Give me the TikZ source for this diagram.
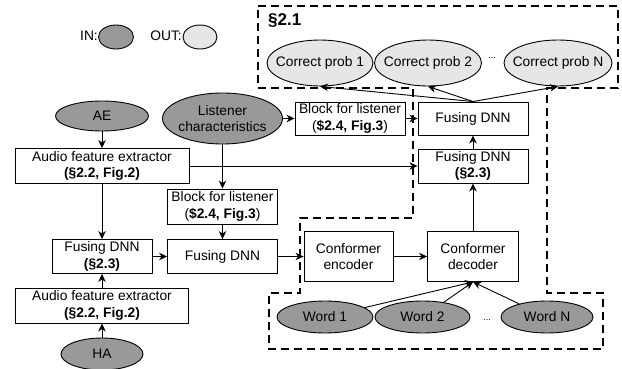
\documentclass[tikz,border=0pt]{standalone}
\usepackage{fontspec}
\setmainfont{Liberation Sans}
\usetikzlibrary{shapes.geometric,arrows.meta}
\definecolor{ingray}{HTML}{999999}
\definecolor{outgray}{HTML}{E6E6E6}
\tikzset{
  base/.style={font=\fontsize{13.8}{16.5}\selectfont, inner sep=0pt, align=center},
  blk/.style={base, draw, line width=0.9pt, rectangle, fill=white},
  inell/.style={base, draw, line width=0.9pt, ellipse, fill=ingray},
  outell/.style={base, draw, line width=0.9pt, ellipse, fill=outgray},
  txt/.style={label={[base]center:#1}},
  arr/.style={line width=0.9pt, -{Stealth[length=8pt,width=7.5pt,inset=2.5pt]}},
  dashbox/.style={line width=1.8pt, dash pattern=on 8pt off 5pt},
}
\begin{document}
\begin{tikzpicture}[x=1pt,y=-1pt]
\useasboundingbox (0,0) rectangle (622,369);
% dashed region
\draw[dashbox] (258,6) -- (618,6) -- (618,88) -- (547,88) -- (547,293) -- (603,293) -- (603,349) -- (269,349) -- (269,293) -- (300,293) -- (300,218) -- (413,218) -- (413,88) -- (258,88) -- cycle;
\node[base, font=\fontsize{17}{20}\selectfont\bfseries, anchor=west] (sec) at (268,21) {§2.1};
% legend
\node[base, anchor=east] (intxt) at (98,36) {IN:};
\node[inell, minimum width=35pt, minimum height=24pt] (inl) at (116,37) {};
\node[base, anchor=east] (outtxt) at (182,36) {OUT:};
\node[outell, minimum width=34pt, minimum height=24pt] (outl) at (200,37) {};
% outputs
\node[outell, minimum width=106pt, minimum height=46pt, txt={Correct prob 1}] (c1) at (320,63) {};
\node[outell, minimum width=107pt, minimum height=46pt, txt={Correct prob 2}] (c2) at (428,63) {};
\node[outell, minimum width=108pt, minimum height=46pt, txt={Correct prob N}] (cN) at (558,63) {};
\node[base, font=\fontsize{9}{10}\selectfont] (dots1) at (492,58) {...};
% inputs
\node[inell, minimum width=93pt, minimum height=30pt, txt={AE}] (ae) at (102,116) {};
\node[inell, minimum width=120pt, minimum height=51pt, txt={Listener\\characteristics}] (lc) at (222.5,118.5) {};
\node[inell, minimum width=82pt, minimum height=32pt, txt={HA}] (ha) at (102,354) {};
% blocks
\node[blk, minimum width=110pt, minimum height=33pt] (bl2) at (350,118.5) {Block for listener\\(\textbf{\$2.4, Fig.3})};
\node[blk, minimum width=110pt, minimum height=33pt] (f3) at (473,118.5) {Fusing DNN};
\node[blk, minimum width=174pt, minimum height=35pt] (afe1) at (102,166) {Audio feature extractor\\\textbf{(§2.2, Fig.2)}};
\node[blk, minimum width=110pt, minimum height=34pt] (f2) at (473,166) {Fusing DNN\\\textbf{(§2.3)}};
\node[blk, minimum width=110pt, minimum height=35pt] (bl1) at (222.5,206.5) {Block for listener\\(\textbf{\$2.4, Fig.3})};
\node[blk, minimum width=100pt, minimum height=34pt] (fl) at (102,256.5) {Fusing DNN\\\textbf{(§2.3)}};
\node[blk, minimum width=110pt, minimum height=34pt] (fm) at (222.5,256.5) {Fusing DNN};
\node[blk, minimum width=89pt, minimum height=50pt] (enc) at (348.5,256.5) {Conformer\\encoder};
\node[blk, minimum width=91pt, minimum height=50pt] (dec) at (473,256.5) {Conformer\\decoder};
\node[blk, minimum width=173pt, minimum height=35pt] (afe2) at (102,305.5) {Audio feature extractor\\\textbf{(§2.2, Fig.2)}};
% words
\node[inell, minimum width=96pt, minimum height=32pt, txt={Word 1}] (w1) at (325,317) {};
\node[inell, minimum width=95pt, minimum height=32pt, txt={Word 2}] (w2) at (422.5,317) {};
\node[inell, minimum width=92pt, minimum height=32pt, txt={Word N}] (wN) at (547,317) {};
\node[base, font=\fontsize{9}{10}\selectfont] (dots2) at (487,320) {...};
% connectors
\draw[arr] (ae) -- (afe1);
\draw[arr] (afe1) -- (fl);
\draw[arr] (afe1) -- (f2);
\draw[arr] (ha) -- (afe2);
\draw[arr] (afe2) -- (fl);
\draw[arr] (lc) -- (bl1);
\draw[arr] (lc) -- (bl2);
\draw[arr] (bl2) -- (f3);
\draw[arr] (bl1) -- (fm);
\draw[arr] (fl) -- (fm);
\draw[arr] (fm) -- (enc);
\draw[arr] (enc) -- (dec);
\draw[arr] (dec) -- (f2);
\draw[arr] (f2) -- (f3);
\draw[arr] (f3.north) -- (c1.south);
\draw[arr] (f3.north) -- (c2.south);
\draw[arr] (f3.north) -- (cN.south);
\draw[arr] (w1) -- (dec.south);
\draw[arr] (w2) -- (dec.south);
\draw[arr] (wN) -- (dec.south);
\end{tikzpicture}
\end{document}
